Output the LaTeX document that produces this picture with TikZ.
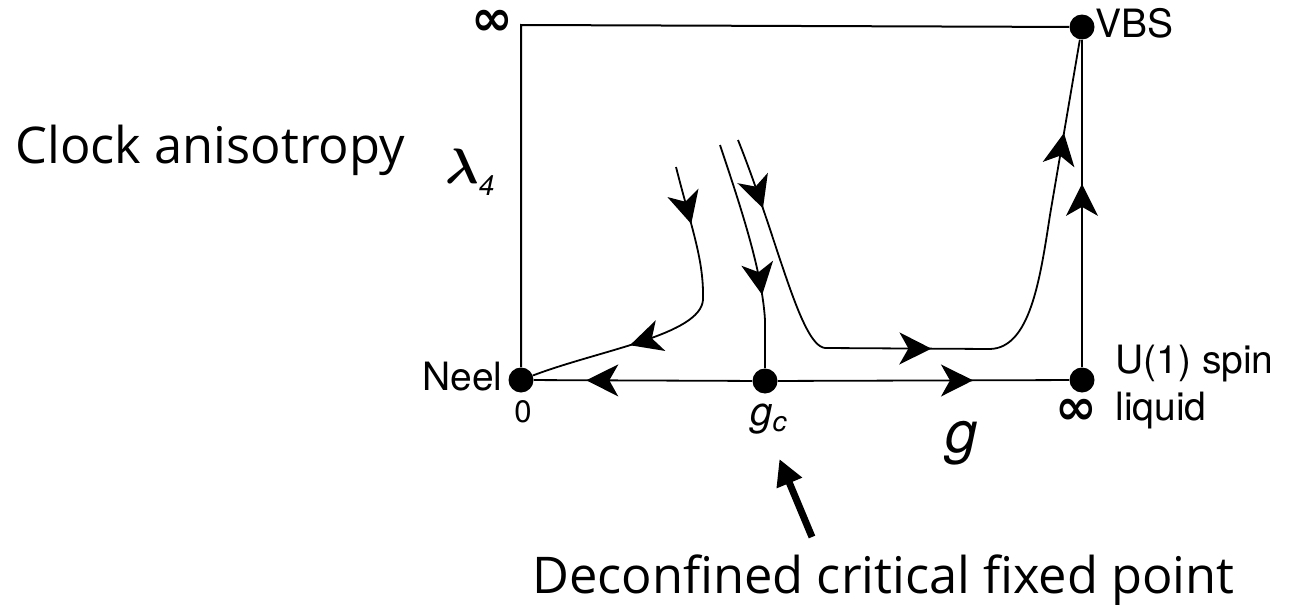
\documentclass[tikz,border=0pt]{standalone}
\usepackage{amsmath}
\usepackage{fontspec}
\usetikzlibrary{arrows.meta,decorations.markings}
\newfontfamily\helv{TeX Gyre Heros}
\newfontfamily\notefont{Open Sans}
\newfontfamily\symfont{DejaVu Sans}
\begin{document}
\begin{tikzpicture}[x=0.5pt, y=-0.5pt,
        dot/.style={circle, fill=black, inner sep=0pt, minimum size=12.5pt},
        lab/.style={font=\helv\fontsize{19.5}{22}\selectfont, inner sep=0pt},
        note/.style={font=\notefont\fontsize{25.3}{28}\selectfont, inner sep=0pt},
        infty/.style={font=\symfont\bfseries\fontsize{25}{25}\selectfont, inner sep=0pt},
        flowline/.style={line width=0.9pt, postaction={decorate}},
        >={Stealth[length=16pt, width=16pt, inset=4.5pt]}]
    \useasboundingbox (0,0) rectangle (1297,605);
    \foreach \n/\x/\y in {neel/521/380, gc/765/381, uone/1082/380, vbs/1082/27}
        \node[dot] (\n) at (\x,\y) {};
    \coordinate (tl) at (521,25);
    \draw[line width=1pt] (neel) -- (tl) -- (vbs);

    \draw[flowline, decoration={markings, mark=at position 0.76 with {\arrow{>}}}]
        (gc) -- (neel);
    \draw[flowline, decoration={markings, mark=at position 0.67 with {\arrow{>}}}]
        (gc) -- (uone);
    \draw[flowline, decoration={markings, mark=at position 0.56 with {\arrow{>}}}]
        (uone) -- (vbs);

    \coordinate (c1s) at (676,167);
    \coordinate (c2s) at (720,145);
    \coordinate (c3s) at (738,140);
    \draw[flowline, decoration={markings,
            mark=at position 0.18 with {\arrow{>}},
            mark=at position 0.69 with {\arrow{>}}}]
        (c1s) .. controls (692,230) and (704,260) .. (703,300)
        .. controls (700,335) and (600,350) .. (neel);
    \draw[flowline, decoration={markings, mark=at position 0.68 with {\arrow{>}}}]
        (c2s) .. controls (740,205) and (762,270) .. (765,320) -- (gc);
    \draw[flowline, decoration={markings,
            mark=at position 0.10 with {\arrow{>}},
            mark=at position 0.46 with {\arrow{>}},
            mark=at position 0.87 with {\arrow{>}}}]
        (c3s) .. controls (778,240) and (800,345) .. (825,348) -- (990,349)
        .. controls (1030,348) and (1040,280) .. (1050,215) -- (vbs);

    \node[lab, anchor=base east] (neellab) at (503,390) {Neel};
    \node[lab, anchor=base west] (vbslab) at (1095,37) {VBS};
    \node[lab, anchor=base west] (uonelab) at (1115,373) {U(1) spin};
    \node[lab, anchor=base west] (liqlab) at (1115,420) {liquid};
    \node[lab, anchor=base, font=\helv\fontsize{15.5}{16}\selectfont] (zerolab) at (523,422) {0};
    \node[lab, anchor=base west, font=\helv\itshape\fontsize{20}{20}\selectfont] (gclab) at (750,425) {g\textsubscript{c}};
    \node[lab, anchor=base west, font=\helv\itshape\fontsize{29}{30}\selectfont] (glab) at (945,452) {g};
    \node[infty] (inftop) at (492,23) {∞};
    \node[infty] (infbot) at (1076,412) {∞};
    \node[anchor=base west, inner sep=0pt, font=\fontsize{27}{27}\selectfont] (lam) at (445,183)
        {$\boldsymbol{\lambda}$\raisebox{-6pt}{\helv\itshape\fontsize{14}{14}\selectfont 4}};

    \node[note, anchor=base west] (clock) at (15,163) {Clock anisotropy};
    \node[note, anchor=base west] (dcfp) at (532,593) {Deconfined critical fixed point};
    \coordinate (bigtail) at (812,537);
    \draw[line width=3.5pt, -{Triangle[length=13pt, width=13pt]}, shorten >=13.5pt]
        (bigtail) -- (gclab.south);
\end{tikzpicture}
\end{document}
